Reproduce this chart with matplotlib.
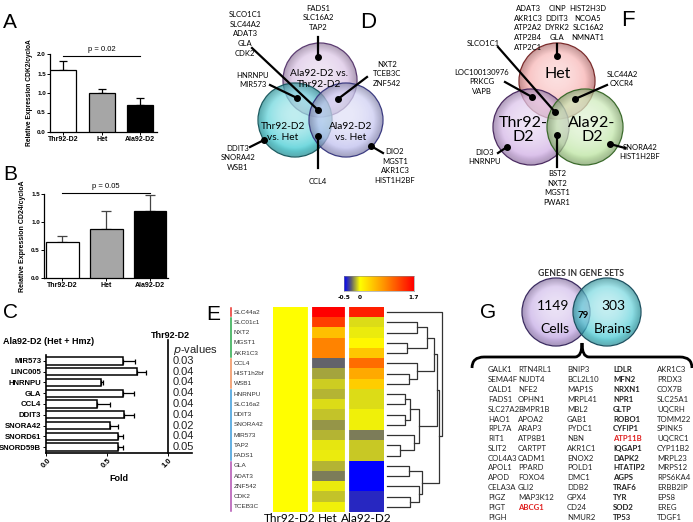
import numpy as np
import matplotlib
matplotlib.use("Agg")
import matplotlib.pyplot as plt
from matplotlib.patches import Circle, PathPatch
from matplotlib.path import Path
from matplotlib.colors import LinearSegmentedColormap, to_rgb

W, H = 693, 522

# ---- data ----
groups = ["Thr92-D2", "Het", "Ala92-D2"]
cdk2_mean = [1.58, 1.0, 0.7]
cdk2_err = [0.23, 0.11, 0.18]
cd24_mean = [0.65, 0.87, 1.19]
cd24_err = [0.1, 0.33, 0.29]
bar_colors = ["white", "#a6a6a6", "black"]

c_genes = ["MIR573", "LINC005", "HNRNPU", "GLA", "CCL4", "DDIT3", "SNORA42", "SNORD61", "SNORD59B"]
c_fold = [0.63, 0.75, 0.45, 0.63, 0.42, 0.64, 0.53, 0.59, 0.59]
c_err = [0.1, 0.07, 0.02, 0.09, 0.11, 0.08, 0.06, 0.04, 0.04]
c_pvals = ["0.03", "0.04", "0.04", "0.04", "0.04", "0.04", "0.02", "0.04", "0.05"]

hm_genes = ["SLC44a2", "SLC01c1", "NXT2", "MGST1", "AKR1C3", "CCL4", "HIST1h2bf", "WSB1",
            "HNRNPU", "SLC16a2", "DDIT3", "SNORA42", "MIR573", "TAP2", "FADS1",
            "GLA", "ADAT3", "ZNF542", "CDK2", "TCEB3C"]
hm_thr = [0, 0, 0, 0, 0, 0, 0, 0, 0, 0, 0, 0, 0, 0, 0, 0, 0, 0, 0, 0]
hm_het = [1.7, 1.3, 0.45, 0.85, 0.85, -0.26, -0.15, -0.08, -0.13, -0.06, -0.1, -0.18,
          -0.13, -0.04, -0.03, -0.13, -0.22, -0.03, -0.1, -0.02]
hm_ala = [1.5, -0.06, -0.03, 0.05, 0.4, 1.0, 0.6, 0.35, -0.06, -0.06, -0.02, -0.02,
          -0.22, -0.09, -0.09, -0.5, -0.5, -0.5, -0.4, -0.4]
hm_group_sizes = [1, 4, 3, 7, 5]
hm_group_colors = ["#e8302a", "#2aa84a", "#f0905a", "#3a9ad8", "#b050b0"]
# dendrogram merges: (child a, child b, height); new nodes numbered from 20
dendro = [(1, 2, 30), (3, 4, 20), (20, 21, 40), (6, 7, 22), (5, 23, 30), (22, 24, 47),
          (8, 9, 18), (10, 11, 18), (26, 27, 23), (13, 14, 13), (12, 29, 27), (28, 30, 32),
          (15, 16, 22), (18, 19, 23), (17, 33, 32), (32, 34, 35), (25, 31, 50),
          (36, 35, 52), (0, 37, 55)]

g_col1 = ["GALK1", "SEMA4F", "CALD1", "FADS1", "SLC27A2", "HAO1", "RPL7A", "RIT1", "SLIT2",
          "COL4A3", "APOL1", "APOD", "CELA3A", "PIGZ", "PIGT", "PIGH"]
g_col2 = ["RTN4RL1", "NUDT4", "NFE2", "OPHN1", "BMPR1B", "APOA2", "ARAP3", "ATP8B1", "CARTPT",
          "CADM1", "PPARD", "FOXO4", "GLI2", "MAP3K12", "ABCG1"]
g_col3 = ["BNIP3", "BCL2L10", "MAP1S", "MRPL41", "MBL2", "GAB1", "PYDC1", "NBN", "AKR1C1",
          "ENOX2", "POLD1", "DMC1", "DDB2", "GPX4", "CD24", "NMUR2"]
g_col4 = ["LDLR", "MFN2", "NRXN1", "NPR1", "GLTP", "ROBO1", "CYFIP1", "ATP11B", "IQGAP1",
          "DAPK2", "HTATIP2", "AGPS", "TRAF6", "TYR", "SOD2", "TP53"]
g_col5 = ["AKR1C3", "PRDX3", "COX7B", "SLC25A1", "UQCRH", "TOMM22", "SPINK5", "UQCRC1",
          "CYP11B2", "MRPL23", "MRPS12", "RPS6KA4", "ERBB2IP", "EPS8", "EREG", "TDGF1"]
g_red = ["ABCG1", "ATP11B"]

ARIAL = "Liberation Sans"
CAL = "Lato"

fig = plt.figure(figsize=(W / 100, H / 100), dpi=100)


def px_axes(l, t, r, b):
    return fig.add_axes([l / W, 1 - b / H, (r - l) / W, (b - t) / H])


def style_bar_axes(ax):
    for s in ["top", "right"]:
        ax.spines[s].set_visible(False)
    for s in ["left", "bottom"]:
        ax.spines[s].set_linewidth(0.9)
    ax.tick_params(length=2, width=0.7, labelsize=4.5, pad=1)
    for lab in ax.get_xticklabels() + ax.get_yticklabels():
        lab.set_fontfamily(ARIAL)
        lab.set_fontweight("bold")


# ---- A ----
axA = px_axes(50, 54, 157, 132)
x = np.arange(3)
axA.bar(x, cdk2_mean, width=0.67, color=bar_colors, edgecolor="black", lw=0.9, zorder=3)
axA.errorbar(x, cdk2_mean, yerr=[[0, 0, 0], cdk2_err], fmt="none", ecolor="black",
             capsize=3, elinewidth=0.9, capthick=0.9, zorder=2)
axA.set_xlim(-0.34, 2.43)
axA.set_ylim(0, 2.0)
axA.set_yticks([0, 0.5, 1.0, 1.5, 2.0])
axA.set_yticklabels(["0.0", "0.5", "1.0", "1.5", "2.0"])
axA.set_xticks(x)
axA.set_xticklabels(groups)
axA.set_ylabel("Relative Expression CDK2/cycloA", fontsize=4.8, fontfamily=ARIAL,
               fontweight="bold", labelpad=3)
style_bar_axes(axA)
axA.tick_params(axis="x", labelsize=5)
axA.plot([0, 2], [1.96, 1.96], color="black", lw=0.8, clip_on=False)
axA.text(1, 2.03, "p = 0.02", ha="center", va="bottom", fontsize=5.5, fontfamily=ARIAL)

# ---- B ----
axB = px_axes(44, 194, 168, 278)
axB.bar(x, cd24_mean, width=0.75, color=bar_colors, edgecolor="black", lw=0.9, zorder=3)
axB.errorbar(x, cd24_mean, yerr=[[0, 0, 0], cd24_err], fmt="none", ecolor="#444444",
             capsize=3.5, elinewidth=0.9, capthick=0.9, zorder=2)
axB.set_xlim(-0.42, 2.41)
axB.set_ylim(0, 1.5)
axB.set_yticks([0, 0.5, 1.0, 1.5])
axB.set_yticklabels(["0.0", "0.5", "1.0", "1.5"])
axB.set_xticks(x)
axB.set_xticklabels(groups)
axB.set_ylabel("Relative Expression CD24/cycloA", fontsize=5, fontfamily=ARIAL,
               fontweight="bold", labelpad=4)
style_bar_axes(axB)
axB.tick_params(axis="x", labelsize=5)
axB.plot([0, 2], [1.52, 1.52], color="black", lw=0.8, clip_on=False)
axB.text(1, 1.58, "p = 0.05", ha="center", va="bottom", fontsize=5.5, fontfamily=ARIAL)

# ---- C ----
axC = px_axes(46, 355, 192, 453)
yc = np.arange(len(c_genes))
axC.barh(yc, c_fold, height=0.68, color="white", edgecolor="black", lw=1.1, zorder=3)
axC.errorbar(c_fold, yc, xerr=[[0] * len(c_fold), c_err], fmt="none", ecolor="black",
             capsize=1.8, elinewidth=0.9, capthick=0.9, zorder=2)
axC.set_xlim(0, 1.2)
axC.set_ylim(8.55, -0.55)
axC.set_yticks(yc)
axC.set_yticklabels(c_genes)
axC.set_xticks([0, 0.5, 1.0])
axC.set_xticklabels(["0.0", "0.5", "1.0"], rotation=45)
style_bar_axes(axC)
axC.spines["bottom"].set_linewidth(1.2)
axC.spines["left"].set_linewidth(1.2)
axC.tick_params(axis="y", labelsize=5.6, pad=1, length=2.5)
axC.tick_params(axis="x", labelsize=5.5, pad=1)
axC.set_xlabel("Fold", fontsize=6.5, fontfamily=ARIAL, fontweight="bold", labelpad=3)
axC.plot([1.0, 1.0], [8.55, -1.9], color="black", lw=1.2, clip_on=False)
for i, p in enumerate(c_pvals):
    axC.text(1.04, i, p, va="center", ha="left", fontsize=8, fontfamily=ARIAL, color="#222222")
axC.text(1.04, -1.0, r"$\it{p}$-values", va="center", ha="left", fontsize=8,
         fontfamily=ARIAL, color="#222222")

# ---- E heatmap ----
cmap = LinearSegmentedColormap.from_list(
    "hm", [(0.0, "#0000ff"), (0.1, "#5c5c70"), (0.227, "#ffff00"), (0.55, "#ff9a00"),
           (1.0, "#ff0000")])
axE = px_axes(273, 307, 384, 512)
mat = np.array([hm_thr, hm_het, hm_ala]).T
axE.imshow(mat, cmap=cmap, vmin=-0.5, vmax=1.7, aspect="auto", interpolation="nearest")
for xb in [0.5, 1.5]:
    axE.axvline(xb, color="white", lw=3)
axE.set_xticks([])
axE.set_yticks([])
for s in axE.spines.values():
    s.set_visible(False)

axCb = px_axes(344, 276, 414, 291)
grad = np.linspace(-0.5, 1.7, 256)[None, :]
axCb.imshow(grad, cmap=cmap, vmin=-0.5, vmax=1.7, aspect="auto", extent=(-0.5, 1.7, 0, 1))
axCb.set_yticks([])
axCb.set_xticks([-0.5, 0, 1.7])
axCb.set_xticklabels(["-0.5", "0", "1.7"])
axCb.tick_params(axis="x", length=0, labelsize=4.2, pad=3)
for lab in axCb.get_xticklabels():
    lab.set_fontweight("bold")
for s in axCb.spines.values():
    s.set_linewidth(0.4)
    s.set_color("#888888")

axD = px_axes(387, 307, 442, 512)
axD.set_xlim(0, 55)
axD.set_ylim(19.5, -0.5)
pos = {i: (0, i) for i in range(len(hm_genes))}
for k, (a, b, h) in enumerate(dendro):
    xa, ya = pos[a]
    xb, yb = pos[b]
    axD.plot([xa, h, h, xb], [ya, ya, yb, yb], color="#333333", lw=0.9, clip_on=False)
    pos[len(hm_genes) + k] = (h, (ya + yb) / 2)
axD.axis("off")

# ---- overlay in pixel coords ----
ov = fig.add_axes([0, 0, 1, 1])
ov.set_zorder(10)
ov.patch.set_visible(False)


def glass(cx, cy, r, color, edge, z):
    n = 240
    g = np.linspace(-1, 1, n)
    X, Y = np.meshgrid(g, g)
    d = np.clip(np.sqrt(X ** 2 + (Y + 0.15) ** 2), 0, 1)
    base = np.array(to_rgb(color))
    light = 0.6 * (1 - d ** 2)
    rgb = base[None, None, :] * (1 - light[..., None]) + light[..., None]
    rim = np.sqrt(X ** 2 + Y ** 2)
    dark = 0.3 * np.clip((rim - 0.75) / 0.25, 0, 1)
    rgb = rgb * (1 - dark[..., None])
    alpha = np.where(rim <= 1, 0.72, 0)
    img = np.dstack([np.clip(rgb, 0, 1), alpha])
    im = ov.imshow(img, extent=(cx - r, cx + r, cy + r, cy - r), zorder=z,
                   interpolation="bilinear", aspect="auto")
    c = Circle((cx, cy), r, facecolor="none", edgecolor=edge, lw=0.9, zorder=z + 0.5)
    ov.add_patch(c)
    im.set_clip_path(c)


def pointer(x0, y0, x1, y1):
    ov.plot([x0, x1], [y0, y1], color="black", lw=1.6, zorder=20)
    ov.plot([x1], [y1], "o", color="black", ms=4, zorder=21)


def T(x, y, s, size=5.5, fam=CAL, **kw):
    kw.setdefault("ha", "center")
    kw.setdefault("va", "center")
    ov.text(x, y, s, fontsize=size, fontfamily=fam, **kw)


# panel letters
for lab, lx, ly in [("A", 3, 22), ("B", 3, 174), ("C", 3, 313), ("E", 206, 315)]:
    T(lx, ly, lab, size=15, fam=ARIAL, ha="left")
T(368, 22, "D", size=16, fam=ARIAL)
T(628, 21, "F", size=16, fam=ARIAL)
T(488, 313, "G", size=15, fam=ARIAL)

# C headers
T(3, 341, "Ala92-D2 (Het + Hmz)", size=6.5, fam=ARIAL, ha="left", fontweight="bold")
T(151, 336, "Thr92-D2", size=6.5, fam=ARIAL, ha="left", fontweight="bold")

# D venn
glass(320, 80, 37, "#c9a6d9", "#5a3a70", 1)
glass(295, 120, 37, "#23c3cc", "#1a5a60", 2)
glass(346, 120, 37, "#b4b4ec", "#3a3a80", 3)
T(319, 79, "Ala92-D2 vs.\nThr92-D2", size=7.3, linespacing=1.15, zorder=25)
T(283, 132, "Thr92-D2\nvs. Het", size=7.3, linespacing=1.15, zorder=25)
T(351, 132, "Ala92-D2\nvs. Het", size=7.3, linespacing=1.15, zorder=25)
T(318, 18, "FADS1\nSLC16A2\nTAP2", linespacing=1.45)
T(245, 34, "SLCO1C1\nSLC44A2\nADAT3\nGLA\nCDK2", linespacing=1.45)
T(253, 80, "HNRNPU\nMIR573", linespacing=1.45)
T(387, 74, "NXT2\nTCEB3C\nZNF542", linespacing=1.45)
T(238, 158, "DDIT3\nSNORA42\nWSB1", linespacing=1.45)
T(395, 166, "DIO2\nMGST1\nAKR1C3\nHIST1H2BF", linespacing=1.45)
T(318, 182, "CCL4")
pointer(318, 37, 318, 57)
pointer(252, 48, 318, 110)
pointer(270, 85, 297, 98)
pointer(367, 77, 338, 99)
pointer(318, 168, 318, 136)
pointer(250, 147, 264, 140)
pointer(383, 153, 371, 146)

# F venn
glass(557, 81, 38, "#f59090", "#7a2a2a", 1)
glass(531, 127, 38, "#c8a0e0", "#4a2a60", 2)
glass(585, 127, 38, "#b0e090", "#3a6a2a", 3)
T(558, 74, "Het", size=11.5, zorder=25)
T(523, 130, "Thr92-\nD2", size=11.5, linespacing=1.05, zorder=25)
T(592, 130, "Ala92-\nD2", size=11.5, linespacing=1.05, zorder=25)
T(528, 5, "ADAT3\nAKR1C3\nATP2A2\nATP2B4\nATP2C1", va="top", linespacing=1.45)
T(557, 5, "CINP\nDDIT3\nDYRK2\nGLA", va="top", linespacing=1.45)
T(588, 5, "HIST2H3D\nNCOA5\nSLC16A2\nNMNAT1", va="top", linespacing=1.45)
T(483, 43, "SLCO1C1")
T(482, 82, "LOC100130976\nPRKCG\nVAPB", linespacing=1.45)
T(622, 79, "SLC44A2\nCXCR4", linespacing=1.45)
T(485, 157, "DIO3\nHNRNPU", linespacing=1.45)
T(640, 152, "SNORA42\nHIST1H2BF", linespacing=1.45)
T(557, 188, "BST2\nNXT2\nMGST1\nPWAR1", linespacing=1.45)
pointer(557, 44, 557, 56)
pointer(498, 47, 555, 112)
pointer(505, 82, 532, 97)
pointer(607, 85, 575, 99)
pointer(498, 153, 507, 147)
pointer(625, 148, 610, 144)
pointer(557, 167, 557, 135)

# E labels
row_h = (512 - 307) / len(hm_genes)
for i, g in enumerate(hm_genes):
    T(234, 307 + (i + 0.5) * row_h, g, size=4.6, fam=ARIAL, ha="left", color="#333333")
start = 0
for n, col in zip(hm_group_sizes, hm_group_colors):
    ov.plot([231, 231], [307 + start * row_h + 1, 307 + (start + n) * row_h - 1],
            color=col, lw=1.1)
    start += n
for lab, cx in zip(groups, [290, 328, 366]):
    T(cx, 518, lab, size=8.5)

# G venn
T(581, 274, "GENES IN GENE SETS", size=6.2, fontweight="bold", color="#333333")
glass(556, 312, 34, "#b898e0", "#3a2a60", 1)
glass(607, 312, 34, "#30c4d0", "#1a5060", 2)
T(553, 306, "1149", size=10, zorder=25)
T(555, 329, "Cells", size=10, zorder=25)
T(613, 306, "303", size=10, zorder=25)
T(613, 329, "Brains", size=10, zorder=25)
T(583, 315, "79", size=7, fontweight="bold", zorder=25)

verts = [(472, 368), (472, 357), (484, 357), (575, 357),
         (582, 357), (582, 343), (582, 357), (589, 357),
         (680, 357), (692, 357), (692, 368)]
codes = [Path.MOVETO, Path.CURVE3, Path.CURVE3, Path.LINETO,
         Path.CURVE3, Path.CURVE3, Path.CURVE3, Path.CURVE3,
         Path.LINETO, Path.CURVE3, Path.CURVE3]
ov.add_patch(PathPatch(Path(verts, codes), facecolor="none", edgecolor="black", lw=2))

for cx, col, bold in [(488, g_col1, False), (518, g_col2, False), (567, g_col3, False),
                      (613, g_col4, True), (657, g_col5, False)]:
    for i, g in enumerate(col):
        T(cx, 370 + i * 9.8, g, size=5.6, ha="left",
          color="#e02020" if g in g_red else "#222222",
          fontweight="bold" if (bold or g in g_red) else "normal")

ov.set_xlim(0, W)
ov.set_ylim(H, 0)
ov.axis("off")

fig.savefig("out.png", dpi=100)
